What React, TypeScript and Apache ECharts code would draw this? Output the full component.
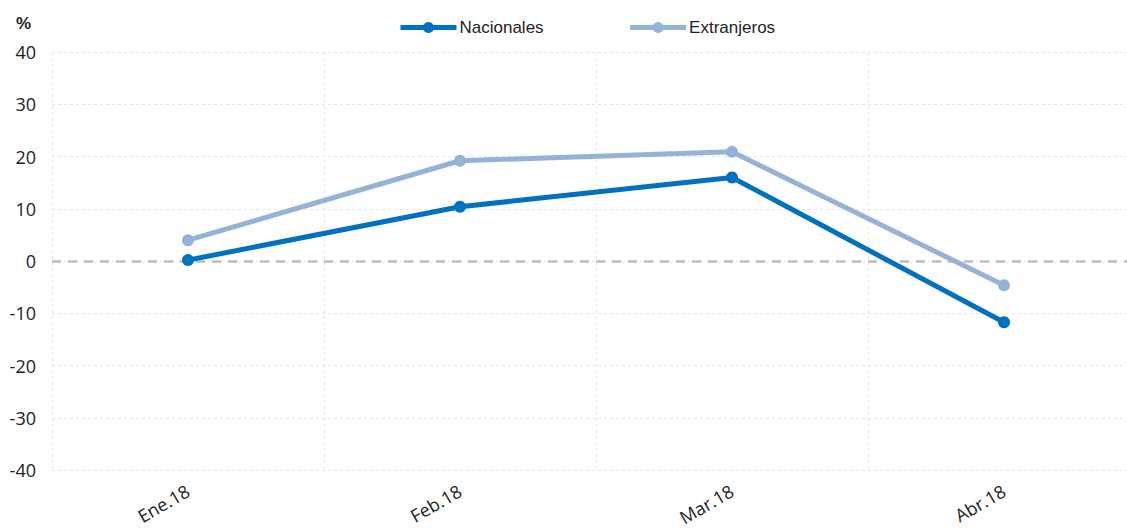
import React, { useEffect, useRef } from "react";
import * as echarts from "echarts";

const categories = ["Ene.18", "Feb.18", "Mar.18", "Abr.18"];
const nacionales = [0.2, 10.4, 16.0, -11.7];
const extranjeros = [4.0, 19.2, 20.9, -4.6];
const yMin = -40;
const yMax = 40;
const yInterval = 10;

export default function App() {
  const ref = useRef<HTMLDivElement>(null);
  useEffect(() => {
    if (!ref.current) return;
    const chart = echarts.init(ref.current, undefined, { renderer: "svg" });
    const font = "'Liberation Sans Narrow', 'Liberation Sans', Arial, sans-serif";
    chart.setOption({
      animation: false,
      backgroundColor: "#ffffff",
      grid: { left: 52, right: 5, top: 52, bottom: 56, containLabel: false },
      legend: {
        top: 14,
        left: 393,
        itemWidth: 56,
        itemHeight: 14,
        itemGap: 84,
        lineStyle: { width: 5 },
        textStyle: { fontFamily: font, fontSize: 17, color: "#222", padding: [0, 0, 0, -2] },
        data: ["Nacionales", "Extranjeros"],
      },
      graphic: [
        {
          type: "text",
          left: 16,
          top: 15,
          style: { text: "%", font: `bold 17px ${font}`, fill: "#222" },
        },
      ],
      xAxis: {
        type: "category",
        data: categories,
        boundaryGap: true,
        axisLine: { show: false },
        axisTick: { show: false },
        splitLine: { show: true, lineStyle: { color: "#e6e6e6", type: [3, 3], width: 1 } },
        axisLabel: {
          rotate: 30,
          margin: 19,
          fontFamily: "'Open Sans', sans-serif",
          fontSize: 18,
          color: "#222",
        },
      },
      yAxis: {
        type: "value",
        min: yMin,
        max: yMax,
        interval: yInterval,
        axisLine: { show: false },
        axisTick: { show: false },
        axisLabel: { margin: 16, fontFamily: "'Open Sans', sans-serif", fontSize: 18, color: "#222" },
        splitLine: { show: true, lineStyle: { color: "#e6e6e6", type: [3, 3], width: 1 } },
      },
      series: [
        {
          name: "Nacionales",
          type: "line",
          data: nacionales,
          symbol: "circle",
          symbolSize: 12,
          itemStyle: { color: "#0070C0" },
          lineStyle: { color: "#0070C0", width: 5 },
          z: 4,
          markLine: {
            silent: true,
            symbol: "none",
            label: { show: false },
            lineStyle: { color: "#bdbdbd", type: [9, 7], width: 2.5 },
            data: [{ yAxis: 0 }],
            z: 1,
          },
        },
        {
          name: "Extranjeros",
          type: "line",
          data: extranjeros,
          symbol: "circle",
          symbolSize: 12,
          itemStyle: { color: "#95B3D7" },
          lineStyle: { color: "#95B3D7", width: 5 },
          z: 3,
        },
      ],
    });
    return () => chart.dispose();
  }, []);
  return (
    <div style={{ position: "fixed", left: 0, top: 0, width: 1127, height: 528, overflow: "hidden" }}>
      <div ref={ref} style={{ width: 1145, height: 528 }} />
    </div>
  );
}
